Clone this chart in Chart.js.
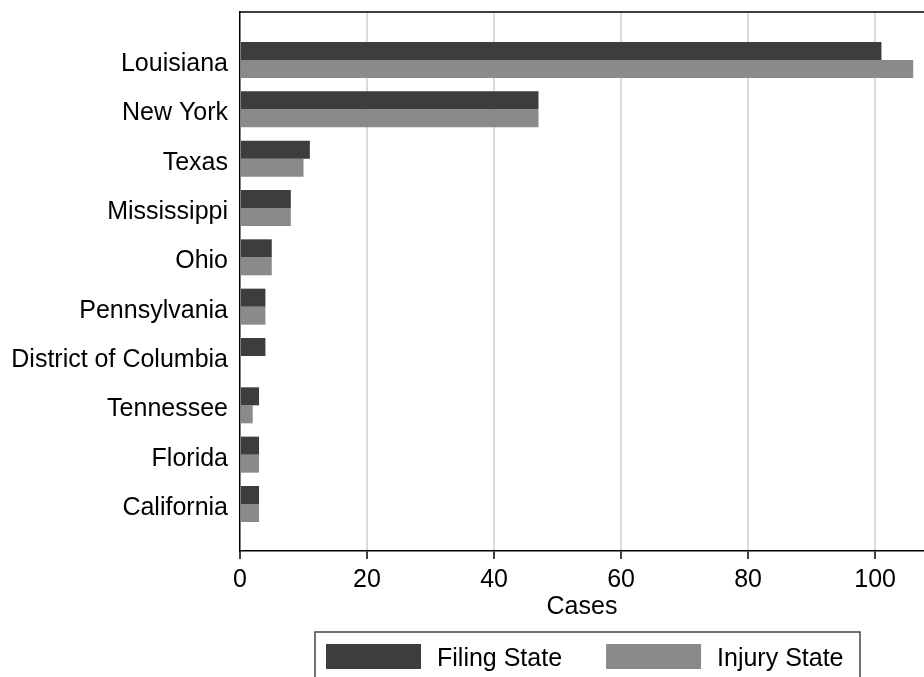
<!DOCTYPE html>
<html>
<head>
<meta charset="utf-8">
<script src="https://cdn.jsdelivr.net/npm/chart.js@4.4.1/dist/chart.umd.min.js"></script>
<style>
  body { margin: 0; background: #fff; }
  #wrap { width: 924px; height: 677px; }
</style>
</head>
<body>
<div id="wrap"><canvas id="chart" width="924" height="677"></canvas></div>
<script>
// Chart data
const states = ['Louisiana', 'New York', 'Texas', 'Mississippi', 'Ohio', 'Pennsylvania',
  'District of Columbia', 'Tennessee', 'Florida', 'California'];
const filingState = [101, 47, 11, 8, 5, 4, 4, 3, 3, 3];
const injuryState = [106, 47, 10, 8, 5, 4, 0, 2, 3, 3];
const xTicks = [0, 20, 40, 60, 80, 100];

const FONT = "'Liberation Sans', Arial, Helvetica, sans-serif";

// Top frame line of the plot region
const frameTop = {
    id: 'frameTop',
    afterDraw(chart) {
        const { ctx, chartArea } = chart;
        ctx.save();
        ctx.strokeStyle = '#000';
        ctx.lineWidth = 1.5;
        ctx.beginPath();
        ctx.moveTo(chartArea.left, chartArea.top);
        ctx.lineTo(chartArea.right, chartArea.top);
        ctx.stroke();
        ctx.restore();
    }
};

// Boxed legend under the axis title
const boxLegend = {
    id: 'boxLegend',
    afterDraw(chart) {
        const { ctx, chartArea } = chart;
        const left = chartArea.left + 75;
        const top = 632;
        const width = 545;
        ctx.save();
        ctx.strokeStyle = '#444';
        ctx.lineWidth = 1.5;
        ctx.strokeRect(left, top, width, 80);
        ctx.font = '25px ' + FONT;
        ctx.textBaseline = 'alphabetic';
        let x = left + 11;
        chart.data.datasets.forEach(ds => {
            ctx.fillStyle = ds.backgroundColor;
            ctx.fillRect(x, 644, 95, 25);
            x += 95 + 16;
            ctx.fillStyle = '#000';
            ctx.fillText(ds.label, x, 666);
            x += ctx.measureText(ds.label).width + 44;
        });
        ctx.restore();
    }
};

new Chart(document.getElementById('chart'), {
    type: 'bar',
    data: {
        datasets: [{
            label: 'Filing State',
            data: filingState.map((v, i) => ({ x: v, y: i })),
            backgroundColor: '#3d3d3d',
            borderWidth: 0
        }, {
            label: 'Injury State',
            data: injuryState.map((v, i) => ({ x: v, y: i })),
            backgroundColor: '#8a8a8a',
            borderWidth: 0
        }]
    },
    options: {
        indexAxis: 'y',
        responsive: false,
        animation: false,
        categoryPercentage: 0.73,
        barPercentage: 1.0,
        layout: { padding: { top: 12, left: 0, right: 0, bottom: 0 } },
        plugins: {
            legend: { display: false },
            tooltip: { enabled: false }
        },
        scales: {
            x: {
                type: 'linear',
                min: 0,
                max: 107.7,
                afterFit: function(scale) {
                    scale.height = 126;
                    scale.paddingLeft = 0;
                    scale.paddingRight = 0;
                },
                ticks: {
                    stepSize: 20,
                    includeBounds: false,
                    autoSkip: false,
                    maxRotation: 0,
                    padding: 6,
                    color: '#000',
                    font: { family: FONT, size: 25 },
                    callback: function(value) {
                        return xTicks.includes(value) ? String(value) : null;
                    }
                },
                grid: {
                    color: function(c) {
                        return c.tick && xTicks.includes(c.tick.value) && c.tick.value !== 0 ? '#dadada' : 'rgba(0,0,0,0)';
                    },
                    lineWidth: 2,
                    tickColor: '#000',
                    tickLength: 8,
                    tickWidth: 1.5
                },
                border: { color: '#000', width: 1.5 },
                title: {
                    display: true,
                    text: 'Cases',
                    color: '#000',
                    font: { family: FONT, size: 25 },
                    padding: { top: 0, bottom: 55 }
                }
            },
            y: {
                type: 'linear',
                reverse: true,
                offset: false,
                min: -0.973,
                max: 9.953,
                afterFit: function(scale) {
                    scale.width = 240;
                    scale.paddingTop = 0;
                    scale.paddingBottom = 0;
                },
                ticks: {
                    stepSize: 1,
                    autoSkip: false,
                    padding: 12,
                    labelOffset: 4,
                    color: '#000',
                    font: { family: FONT, size: 25 },
                    callback: function(value) {
                        return Number.isInteger(value) && states[value] !== undefined ? states[value] : null;
                    }
                },
                grid: { display: false, drawTicks: false },
                border: { color: '#000', width: 1.5 }
            }
        }
    },
    plugins: [frameTop, boxLegend]
});
</script>
</body>
</html>
